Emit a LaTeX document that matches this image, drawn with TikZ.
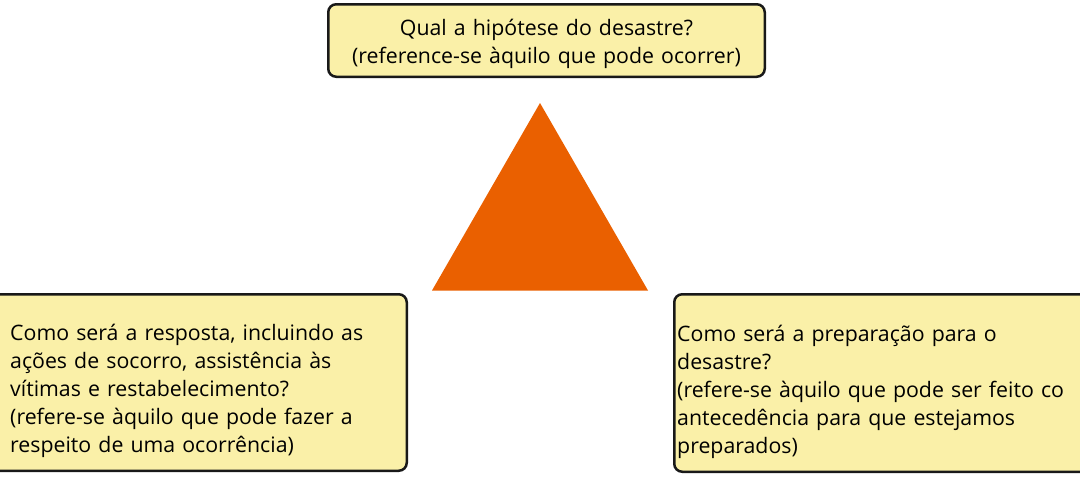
\documentclass[tikz,border=0pt]{standalone}
\usepackage{fontspec}
\setmainfont{Open Sans}
\definecolor{boxfill}{RGB}{250,240,168}
\definecolor{boxline}{RGB}{25,25,25}
\definecolor{hazard}{RGB}{234,96,0}

\begin{document}
\begin{tikzpicture}
        [x=1pt,y=-1pt,
        box/.style = {draw=boxline,
        line width=2.5pt,
        fill=boxfill,
        rounded corners=8pt},
        txt/.style = {inner sep=0pt,
        font=\fontsize{21.3}{28}\selectfont}]

        \useasboundingbox (0,0) rectangle (1080,479);
        \clip (0,0) rectangle (1080,479);

        % Top box
        \node[box,minimum width=436.5pt,minimum height=72.5pt] (hyp) at (546.5,40.5) {};
        \node[txt,text width=430pt,align=center,anchor=base] (hyptxt) at (546.5,35)
            {Qual a hipótese do desastre?\\(reference-se àquilo que pode ocorrer)};

        % Triangle
        \fill[hazard] (540,103) -- (648,290.5) -- (432,290.5) -- cycle;

        % Left box
        \node[box,minimum width=425.5pt,minimum height=176.5pt] (resp) at (194,382.5) {};
        \node[txt,text width=400pt,align=left,anchor=base west] (resptxt) at (10,340)
            {Como será a resposta, incluindo as\\ações de socorro, assistência às\\vítimas e restabelecimento?\\(refere-se àquilo que pode fazer a\\respeito de uma ocorrência)};

        % Right box
        \node[box,minimum width=424.5pt,minimum height=177.5pt] (prep) at (886.5,383) {};
        \node[txt,text width=390pt,align=left,anchor=base west] (preptxt) at (677,341)
            {Como será a preparação para o\\desastre?\\(refere-se àquilo que pode ser feito co\\antecedência para que estejamos\\preparados)};
    \end{tikzpicture}
\end{document}
